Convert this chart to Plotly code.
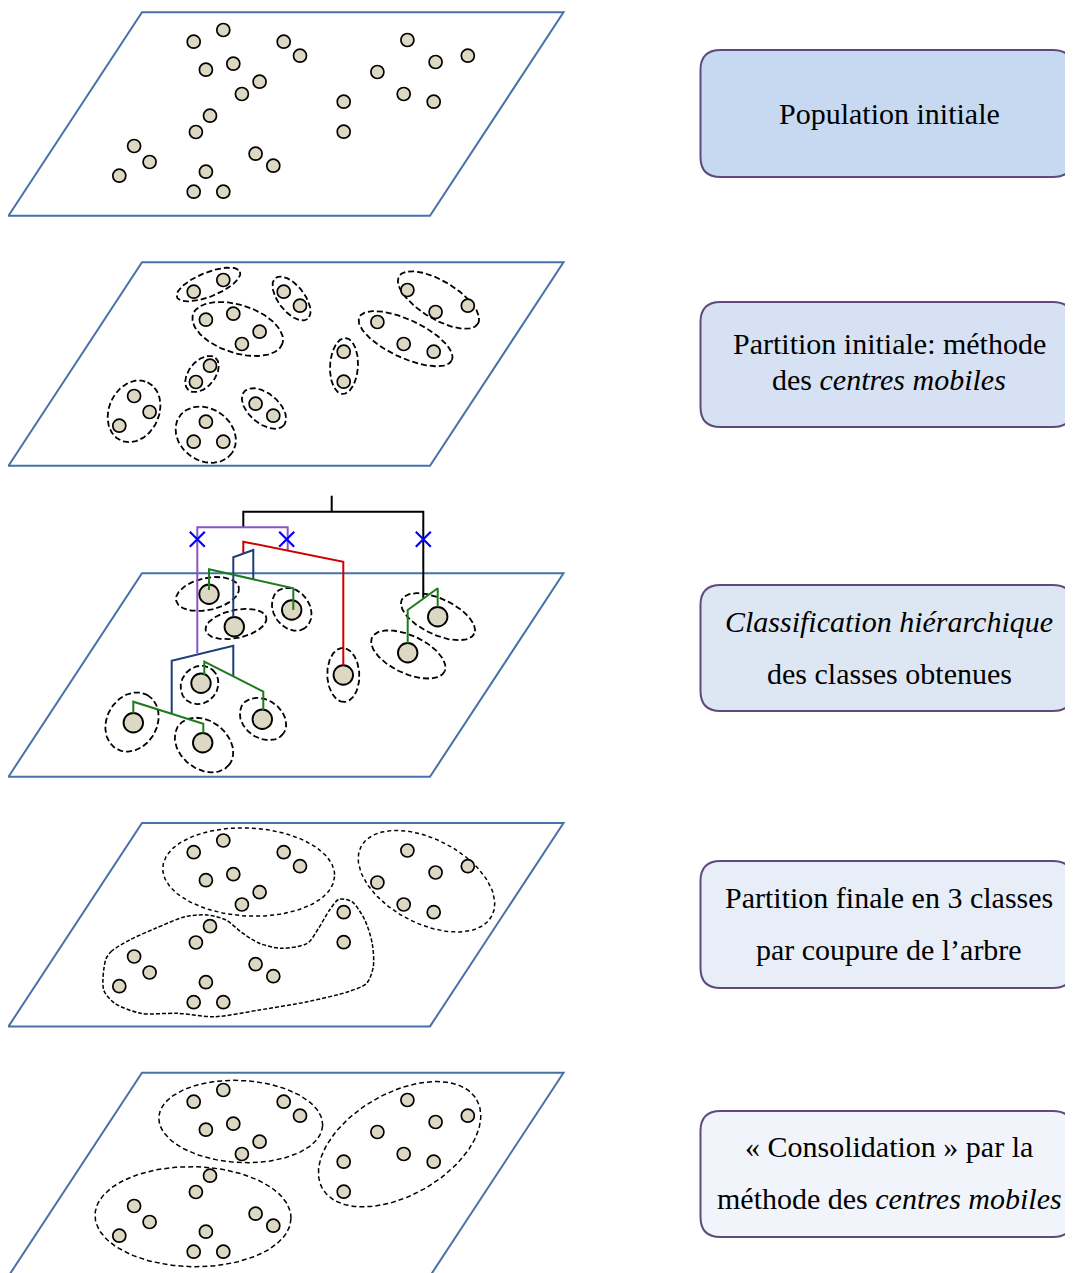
import numpy as np
import plotly.graph_objects as go

W, H = 1073, 1273
OFF = 8  # default page body margin in the html page

# ---------------- data ----------------
# parallelogram panels: top y of each panel, corner x positions, height
panel_tops = [12.3, 262.3, 573.3, 823.0, 1072.7]
panel_height = 203.4
par_x = {"tl": 142.0, "tr": 563.5, "br": 430.0, "bl": 8.5}

# population points (relative to panel 1)
pop_x = [193.7, 223.3, 283.7, 300.0, 205.9, 233.3, 259.6, 241.9, 210.0, 195.9,
         343.7, 343.7, 377.4, 407.4, 435.6, 467.8, 403.7, 433.7, 134.1, 149.6,
         119.3, 205.9, 193.7, 223.3, 255.6, 273.3]
pop_y = [41.7, 30.0, 41.7, 55.7, 69.7, 63.7, 81.7, 94.0, 115.7, 132.0,
         101.7, 131.7, 72.0, 40.0, 62.0, 55.7, 94.0, 101.7, 146.0, 162.0,
         175.7, 171.7, 191.7, 191.7, 153.7, 165.7]
pop_panel_shift = [0.0, 250.0, 810.5, 1060.0]   # panels 1, 2, 4, 5

# panel 2: initial partition ellipses (cx, cy, a, b, angle deg)
p2_ell_cx = [208.5, 291.5, 237.7, 202.0, 134.0, 205.7, 264.0, 344.0, 405.6, 438.5]
p2_ell_cy = [284.5, 298.5, 329.0, 374.0, 411.3, 434.7, 408.5, 366.0, 338.7, 300.0]
p2_ell_a = [34, 26, 47, 21, 32, 32, 26, 28, 51, 46]
p2_ell_b = [12, 13, 24, 13, 25, 26, 15, 14, 19, 19]
p2_ell_ang = [-22, 52, 18, -50, -65, 35, 40, -87, 25, 31]

# panel 3: class centres
p3_cx = [209.0, 291.7, 234.3, 343.3, 437.7, 407.7, 201.0, 262.3, 133.3, 202.7]
p3_cy = [594.3, 610.0, 626.7, 675.0, 616.7, 652.7, 683.3, 719.3, 722.7, 742.7]
p3_ell_cx = [207.5, 291.7, 236.0, 343.3, 438.0, 408.3, 199.5, 263.0, 132.0, 204.0]
p3_ell_cy = [594.0, 609.3, 624.0, 675.0, 616.7, 654.5, 685.0, 719.0, 722.0, 745.0]
p3_ell_a = [32, 23, 31, 27, 40, 40, 20, 25, 31, 32]
p3_ell_b = [16, 18, 14, 16, 18, 19, 18, 19, 25, 24]
p3_ell_ang = [-12, 55, -12, 88, 25, 25, -50, 35, -60, 38]

# dendrogram branches: (color, x list, y list)
dendro = [
    ("#000000", [331.7, 331.7], [495.7, 511.7]),
    ("#000000", [243.3, 243.3, 423.3, 423.3], [527.3, 511.7, 511.7, 598.3]),
    ("#8a55c4", [197.3, 197.3, 287.7, 287.7], [653.3, 527.3, 527.3, 550.5]),
    ("#d00000", [243.3, 243.3, 343.3, 343.3], [553.5, 541.7, 561.7, 665.5]),
    ("#1f3d7a", [233.3, 233.3, 253.3, 253.3], [617.0, 557.3, 550.0, 579.3]),
    ("#1f3d7a", [171.7, 171.7, 233.3, 233.3], [713.3, 660.7, 645.7, 676.2]),
    ("#1e7b1e", [209.0, 209.0, 293.3, 293.3], [590.0, 569.3, 588.3, 610.0]),
    ("#1e7b1e", [437.7, 437.7, 407.7, 407.7], [606.7, 588.3, 610.0, 643.3]),
    ("#1e7b1e", [204.3, 204.3, 263.3, 263.3], [675.0, 661.7, 691.7, 710.0]),
    ("#1e7b1e", [133.3, 133.3, 203.3, 203.3], [713.3, 701.7, 723.8, 733.3]),
]
cut_x = [197.3, 286.7, 423.3]
cut_y = [539.3, 539.3, 539.3]

# panel 4: final partition
p4_ell_cx = [248.7, 426.5]
p4_ell_cy = [872.0, 881.2]
p4_ell_a = [86, 74]
p4_ell_b = [44, 42]
p4_ell_ang = [3, 28]
blob_x = [105.6, 111.0, 129.6, 155.6, 185.2, 207.4, 226.0, 240.7, 259.3, 281.5, 307.4,
          318.5, 329.6, 338.9, 351.9, 364.8, 372.2, 373.3, 366.7, 348.1, 307.4, 259.3,
          214.8, 177.8, 140.7, 114.8, 103.7, 105.6]
blob_y = [960.0, 951.7, 940.0, 928.3, 916.7, 915.0, 920.0, 931.7, 943.3, 948.3, 943.3,
          928.3, 910.0, 899.3, 901.7, 920.0, 943.3, 966.7, 983.3, 991.7, 1001.7, 1010.0,
          1016.7, 1013.3, 1013.3, 1003.3, 990.0, 960.0]

# panel 5: consolidation
p5_ell_cx = [240.7, 193.0, 399.6]
p5_ell_cy = [1121.5, 1216.7, 1144.2]
p5_ell_a = [82, 98, 89]
p5_ell_b = [41, 50, 51]
p5_ell_ang = [3, 1, -30]

# text boxes
box_y0 = [50, 302, 585, 861, 1111]
box_y1 = [177, 427, 711, 988, 1237]
box_fill = ["#c6d9f1", "#d6e2f3", "#dde7f4", "#e8eef8", "#f1f5fb"]
box_lines = [
    ["Population initiale"],
    ["Partition initiale: méthode", "des <i>centres mobiles</i>"],
    ["<i>Classification hiérarchique</i>", "des classes obtenues"],
    ["Partition finale en 3 classes", "par coupure de l’arbre"],
    ["« Consolidation » par la", "méthode des <i>centres mobiles</i>"],
]
box_line_y = [[113], [343, 379], [621, 673], [897, 949], [1146, 1198]]

# ---------------- styles ----------------
PAR_COLOR = "#4672a8"
DOT_FILL = "#ddd8c3"
BOX_LINE = "#604a7b"
FONT = "Liberation Serif"

fig = go.Figure()
shapes = []

# parallelograms
for t in panel_tops:
    b = t + panel_height
    path = (f"M{par_x['tl']},{t} L{par_x['tr']},{t} L{par_x['br']},{b} "
            f"L{par_x['bl']},{b} Z")
    shapes.append(dict(type="path", path=path, xref="x", yref="y",
                       line=dict(color=PAR_COLOR, width=2), fillcolor="white",
                       layer="below"))

# rounded boxes
def rrect(x0, y0, x1, y1, r):
    return (f"M{x0+r},{y0} L{x1-r},{y0} Q{x1},{y0} {x1},{y0+r} L{x1},{y1-r} "
            f"Q{x1},{y1} {x1-r},{y1} L{x0+r},{y1} Q{x0},{y1} {x0},{y1-r} "
            f"L{x0},{y0+r} Q{x0},{y0} {x0+r},{y0} Z")

for y0, y1, fc in zip(box_y0, box_y1, box_fill):
    shapes.append(dict(type="path", path=rrect(700.5, y0, 1073, y1, 20),
                       xref="x", yref="y", line=dict(color=BOX_LINE, width=2),
                       fillcolor=fc, layer="below"))


def ellipse(cx, cy, a, b, ang, n=140):
    t = np.linspace(0, 2 * np.pi, n)
    th = np.deg2rad(ang)
    x = cx + a * np.cos(t) * np.cos(th) - b * np.sin(t) * np.sin(th)
    y = cy + a * np.cos(t) * np.sin(th) + b * np.sin(t) * np.cos(th)
    return x, y


def add_ellipses(cxs, cys, as_, bs, angs, width=1.6, dash="5px,3px"):
    for cx, cy, a, b, ang in zip(cxs, cys, as_, bs, angs):
        x, y = ellipse(cx, cy, a, b, ang)
        fig.add_trace(go.Scatter(x=x, y=y, mode="lines", hoverinfo="skip",
                                 line=dict(color="black", width=width,
                                           dash=dash)))


add_ellipses(p2_ell_cx, p2_ell_cy, p2_ell_a, p2_ell_b, p2_ell_ang,
             width=1.8, dash="6px,3px")
add_ellipses(p3_ell_cx, p3_ell_cy, p3_ell_a, p3_ell_b, p3_ell_ang,
             width=1.8, dash="6px,3px")
add_ellipses(p4_ell_cx, p4_ell_cy, p4_ell_a, p4_ell_b, p4_ell_ang,
             width=1.5, dash="4px,3px")
add_ellipses(p5_ell_cx, p5_ell_cy, p5_ell_a, p5_ell_b, p5_ell_ang,
             width=1.5, dash="5px,3px")

fig.add_trace(go.Scatter(x=blob_x, y=blob_y, mode="lines", hoverinfo="skip",
                         line=dict(color="black", width=1.5, dash="4px,2px",
                                   shape="spline", smoothing=0.8)))

# population dots
for s in pop_panel_shift:
    fig.add_trace(go.Scatter(x=pop_x, y=[v + s for v in pop_y], mode="markers",
                             hoverinfo="skip",
                             marker=dict(size=13, color=DOT_FILL,
                                         line=dict(color="black", width=1.7))))

# class centres panel 3
fig.add_trace(go.Scatter(x=p3_cx, y=p3_cy, mode="markers", hoverinfo="skip",
                         marker=dict(size=19.5, color=DOT_FILL,
                                     line=dict(color="black", width=1.9))))

# dendrogram
for col, xs, ys in dendro:
    fig.add_trace(go.Scatter(x=xs, y=ys, mode="lines", hoverinfo="skip",
                             line=dict(color=col, width=2)))

fig.add_trace(go.Scatter(x=cut_x, y=cut_y, mode="markers", hoverinfo="skip",
                         marker=dict(symbol="x-thin", size=15,
                                     line=dict(color="#0000ff", width=2.2))))

# box texts
annotations = []
for lines, ys in zip(box_lines, box_line_y):
    for txt, yy in zip(lines, ys):
        annotations.append(dict(x=889, y=yy, xref="x", yref="y", text=txt,
                                showarrow=False, xanchor="center",
                                yanchor="middle",
                                font=dict(family=FONT, size=30, color="black")))

fig.update_layout(
    width=W - OFF, height=H - OFF, margin=dict(l=0, r=0, t=0, b=0),
    paper_bgcolor="white", plot_bgcolor="white", showlegend=False,
    shapes=shapes, annotations=annotations,
    xaxis=dict(range=[OFF, W], visible=False, fixedrange=True),
    yaxis=dict(range=[H, OFF], visible=False, fixedrange=True),
)

fig.write_html("out.html")
